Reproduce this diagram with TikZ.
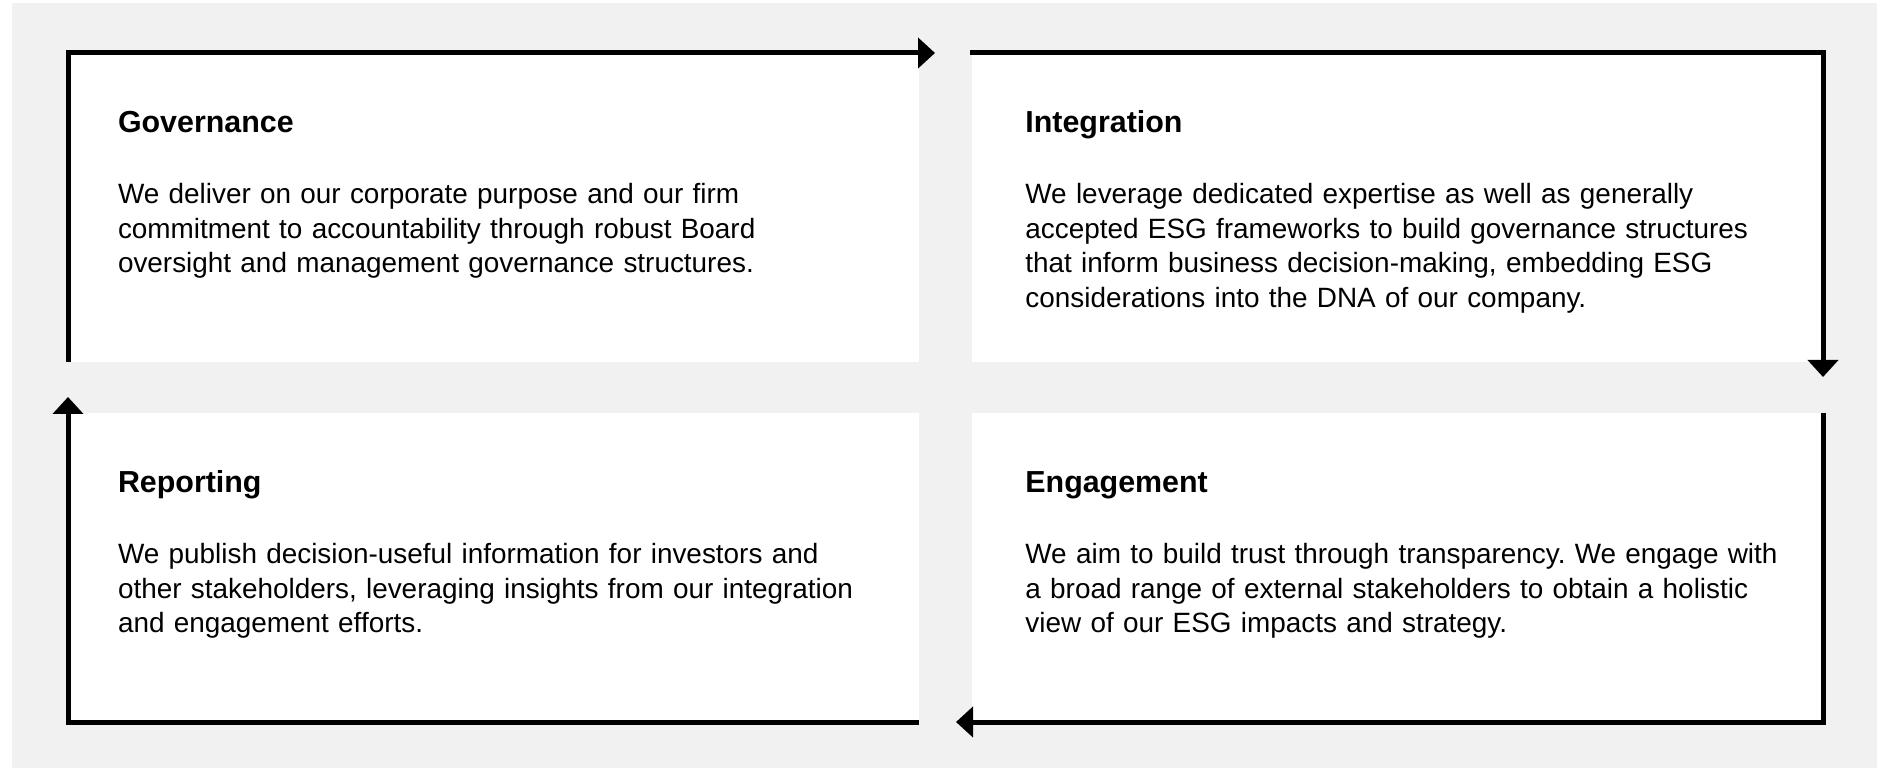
\documentclass[tikz,border=0pt]{standalone}
\usepackage{fontspec}
\setmainfont{Liberation Sans}
\usetikzlibrary{arrows.meta, positioning, calc}
\definecolor{panelGray}{HTML}{F1F1F1}
\definecolor{cycleBlack}{HTML}{000000}
\frenchspacing

\begin{document}
\begin{tikzpicture}[
    x=0.5pt, y=-0.5pt,
    node distance=25.5pt and 26.5pt,
    card/.style={rectangle, fill=white, inner sep=0pt, outer sep=0pt, minimum width=425.5pt, minimum height=154.5pt},
    heading/.style={inner sep=0pt, anchor=base west, font=\fontsize{15.2}{18}\selectfont\bfseries},
    body/.style={inner sep=0pt, anchor=base west, text width=400pt, align=left, font=\fontsize{13.95}{17.25}\selectfont},
    arrow_cycle/.style={-{Triangle[length=8.5pt, width=15pt]}, line width=2.5pt, draw=cycleBlack},
]

\useasboundingbox (0,0) rectangle (1890,769);
\fill[panelGray] (12,3) rectangle (1877,768);

% ====== CARDS ======
\node[card, anchor=north west] (gov) at (68,53) {};
\node[card, right=of gov] (integ) {};
\node[card, below=of gov] (report) {};
\node[card, below=of integ] (engage) {};

% ====== TEXTS ======
\node[heading] (gov_title) at ([xshift=24.8pt, yshift=-40pt]gov.north west) {Governance};
\node[body] (gov_text) at ([yshift=-35.5pt]gov_title.base west) {We deliver on our corporate purpose and our firm\\ commitment to accountability through robust Board\\ oversight and management governance structures.};

\node[heading] (integ_title) at ([xshift=26.5pt, yshift=-40pt]integ.north west) {Integration};
\node[body] (integ_text) at ([yshift=-35.5pt]integ_title.base west) {We leverage dedicated expertise as well as generally\\ accepted ESG frameworks to build governance structures\\ that inform business decision-making, embedding ESG\\ considerations into the DNA of our company.};

\node[heading] (report_title) at ([xshift=24.8pt, yshift=-40pt]report.north west) {Reporting};
\node[body] (report_text) at ([yshift=-35.5pt]report_title.base west) {We publish decision-useful information for investors and\\ other stakeholders, leveraging insights from our integration\\ and engagement efforts.};

\node[heading] (engage_title) at ([xshift=26.5pt, yshift=-40pt]engage.north west) {Engagement};
\node[body] (engage_text) at ([yshift=-35.5pt]engage_title.base west) {We aim to build trust through transparency. We engage with\\ a broad range of external stakeholders to obtain a holistic\\ view of our ESG impacts and strategy.};

% ====== CYCLE ARROWS ======
\draw[arrow_cycle] (gov.south west) -- (gov.north west) -- ([xshift=8pt]gov.north east);
\draw[arrow_cycle] ([xshift=-1pt]integ.north west) -- (integ.north east) -- ([yshift=-7.5pt]integ.south east);
\draw[arrow_cycle] (engage.north east) -- (engage.south east) -- ([xshift=-8pt]engage.south west);
\draw[arrow_cycle] (report.south east) -- (report.south west) -- ([yshift=8pt]report.north west);

\end{tikzpicture}
\end{document}
